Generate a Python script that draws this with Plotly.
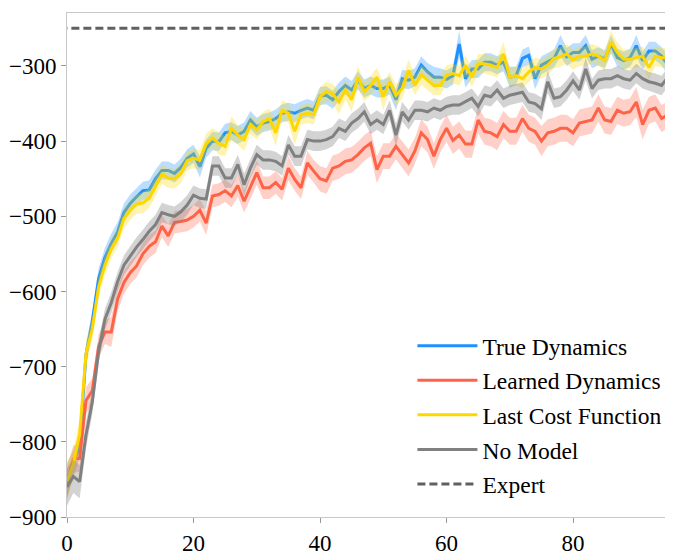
import plotly.graph_objects as go

iterations = list(range(97))

true_dyn = [-851, -829, -805, -684, -640, -583, -555, -536, -521, -495,
            -483, -474, -466, -465, -450, -439, -439, -443, -435, -423,
            -417, -434, -410, -400, -401, -389, -387, -392, -387, -372,
            -381, -376, -374, -370, -363, -361, -363, -359, -356, -359,
            -340, -339, -345, -334, -326, -332, -319, -330, -326, -330,
            -330, -326, -345, -317, -319, -315, -299, -308, -315, -315,
            -318, -313, -271, -317, -304, -304, -295, -295, -299, -295,
            -315, -313, -290, -286, -317, -299, -295, -290, -273, -288,
            -282, -282, -273, -291, -287, -291, -271, -289, -293, -289,
            -273, -293, -280, -280, -287, -299, -287]
true_std = [22, 18, 16, 14, 14, 14, 13, 13, 13, 12,
            12, 12, 12, 13, 12, 12, 12, 12, 12, 12,
            12, 14, 12, 12, 12, 12, 12, 12, 12, 12,
            12, 12, 12, 12, 12, 12, 12, 12, 12, 12,
            12, 12, 12, 12, 12, 12, 12, 12, 12, 12,
            12, 12, 14, 12, 12, 12, 12, 12, 14, 12,
            12, 12, 18, 12, 12, 12, 12, 12, 12, 12,
            14, 12, 12, 12, 14, 12, 12, 12, 14, 12,
            12, 12, 14, 12, 12, 12, 12, 12, 12, 12,
            14, 12, 12, 12, 12, 14, 12]

learned_dyn = [-855, -823, -822, -745, -732, -673, -654, -654, -610, -588,
               -575, -566, -550, -540, -534, -513, -526, -508, -507, -505,
               -500, -492, -509, -473, -471, -466, -473, -459, -480, -462,
               -442, -462, -462, -455, -464, -436, -451, -462, -429, -440,
               -450, -453, -436, -433, -427, -425, -418, -409, -403, -438,
               -420, -420, -407, -418, -429, -413, -389, -398, -420, -398,
               -383, -399, -392, -404, -404, -372, -387, -389, -394, -378,
               -387, -387, -370, -383, -387, -400, -389, -387, -383, -383,
               -389, -376, -374, -372, -356, -372, -374, -359, -363, -361,
               -348, -378, -359, -356, -370, -365, -365]
learned_std = [22, 18, 18, 18, 16, 16, 16, 20, 16, 15,
               15, 15, 15, 15, 15, 15, 15, 15, 15, 15,
               15, 15, 16, 15, 15, 15, 15, 15, 15, 15,
               16, 15, 15, 15, 15, 16, 15, 15, 16, 15,
               17, 17, 17, 17, 17, 17, 17, 17, 17, 18,
               17, 17, 17, 17, 18, 17, 18, 17, 17, 17,
               18, 18, 18, 18, 18, 18, 18, 18, 18, 18,
               18, 18, 18, 18, 18, 20, 18, 18, 18, 18,
               18, 18, 18, 18, 18, 18, 18, 18, 18, 18,
               20, 20, 18, 18, 18, 18, 18]

last_cost = [-852, -830, -790, -683, -650, -594, -565, -543, -529, -503,
             -492, -484, -482, -476, -460, -444, -449, -450, -443, -426,
             -423, -425, -403, -396, -403, -407, -383, -392, -398, -378,
             -385, -374, -370, -389, -359, -363, -387, -365, -363, -365,
             -341, -334, -337, -348, -332, -345, -315, -334, -326, -315,
             -341, -321, -339, -330, -306, -326, -312, -319, -326, -326,
             -312, -310, -313, -299, -315, -297, -297, -299, -302, -284,
             -315, -313, -317, -308, -302, -304, -299, -290, -288, -284,
             -292, -287, -287, -284, -287, -293, -268, -282, -291, -291,
             -289, -287, -302, -287, -289, -289, -287]
last_std = [24, 20, 18, 16, 15, 14, 14, 13, 13, 13,
            13, 13, 14, 13, 13, 13, 13, 13, 13, 13,
            13, 13, 13, 13, 15, 13, 16, 13, 15, 13,
            13, 13, 13, 18, 13, 13, 18, 13, 13, 13,
            13, 13, 13, 16, 13, 16, 15, 13, 13, 13,
            18, 13, 15, 13, 15, 13, 13, 13, 13, 13,
            13, 13, 13, 13, 13, 13, 13, 13, 13, 16,
            13, 13, 13, 13, 13, 13, 13, 13, 13, 13,
            13, 13, 13, 13, 13, 13, 15, 13, 13, 13,
            13, 13, 16, 13, 13, 13, 13]

no_model = [-860, -846, -853, -791, -747, -680, -637, -615, -587, -565,
            -553, -541, -531, -520, -511, -495, -498, -500, -494, -485,
            -472, -476, -477, -433, -433, -449, -449, -431, -458, -436,
            -418, -425, -425, -427, -433, -405, -420, -420, -398, -400,
            -400, -398, -394, -383, -387, -376, -370, -361, -378, -372,
            -378, -359, -392, -361, -372, -359, -359, -361, -356, -359,
            -354, -352, -352, -348, -343, -354, -339, -341, -332, -343,
            -339, -337, -335, -348, -350, -357, -321, -343, -341, -332,
            -320, -332, -304, -330, -319, -317, -317, -313, -317, -319,
            -310, -317, -321, -323, -326, -315, -310]
no_std = [25, 22, 22, 18, 16, 15, 14, 14, 13, 13,
          13, 13, 13, 13, 13, 13, 13, 13, 13, 13,
          13, 13, 13, 13, 13, 13, 13, 13, 15, 13,
          13, 13, 13, 13, 13, 13, 13, 13, 13, 13,
          13, 13, 13, 13, 13, 13, 13, 13, 13, 13,
          13, 13, 15, 13, 13, 13, 13, 13, 13, 13,
          13, 13, 13, 13, 13, 13, 13, 13, 13, 13,
          13, 13, 13, 13, 13, 15, 15, 13, 13, 13,
          13, 13, 15, 13, 13, 13, 13, 13, 13, 13,
          13, 13, 13, 13, 13, 13, 13]

expert_value = -250

series = [
    ("True Dynamics", true_dyn, true_std, "#1E90FF", "rgba(30,144,255,0.30)"),
    ("Learned Dynamics", learned_dyn, learned_std, "#FF6347", "rgba(255,99,71,0.30)"),
    ("Last Cost Function", last_cost, last_std, "#FFD700", "rgba(255,215,0,0.30)"),
    ("No Model", no_model, no_std, "#808080", "rgba(128,128,128,0.35)"),
]

fig = go.Figure()
for name, mean, std, color, fill in series:
    upper = [m + s for m, s in zip(mean, std)]
    lower = [m - s for m, s in zip(mean, std)]
    fig.add_trace(go.Scatter(
        x=iterations + iterations[::-1], y=upper + lower[::-1],
        fill="toself", fillcolor=fill, line=dict(width=0),
        mode="lines", hoverinfo="skip", showlegend=False))
    fig.add_trace(go.Scatter(
        x=iterations, y=mean, mode="lines", name=name,
        line=dict(color=color, width=3), legendgroup=name))

fig.add_trace(go.Scatter(
    x=[iterations[0] - 5, iterations[-1] + 5], y=[expert_value, expert_value],
    mode="lines", name="Expert", legendgroup="Expert",
    line=dict(color="#606060", width=3, dash="8px,4px")))

serif = "Liberation Serif"
axis_font = dict(family=serif, size=23, color="black")

# the page body has an 8px margin; size the figure so it fits the 673x556 window
fig.update_layout(
    width=665, height=548,
    margin=dict(l=59, r=0, t=5, b=26),
    plot_bgcolor="white", paper_bgcolor="white",
    font=axis_font,
    showlegend=True,
    legend=dict(x=0.57, y=0.383, xanchor="left", yanchor="top",
                bgcolor="rgba(255,255,255,0)", tracegroupgap=1, itemwidth=60,
                font=dict(family=serif, size=23.5, color="black")),
)
fig.update_xaxes(
    range=[0, 95.8], tickvals=[0, 20, 40, 60, 80], ticktext=["0", "20", "40", "60", "80"],
    showline=True, linecolor="#c8c8c8", linewidth=1, mirror=True,
    ticks="outside", ticklen=5, tickcolor="#999999", showgrid=False, zeroline=False,
    tickfont=axis_font)
fig.update_yaxes(
    range=[-900, -229.6],
    tickvals=[-900, -800, -700, -600, -500, -400, -300],
    ticktext=["\u2212900", "\u2212800", "\u2212700", "\u2212600", "\u2212500", "\u2212400", "\u2212300"],
    showline=True, linecolor="#c8c8c8", linewidth=1, mirror=False,
    ticks="outside", ticklen=5, tickcolor="#999999", showgrid=False, zeroline=False,
    tickfont=axis_font)

fig.write_html("out.html")
